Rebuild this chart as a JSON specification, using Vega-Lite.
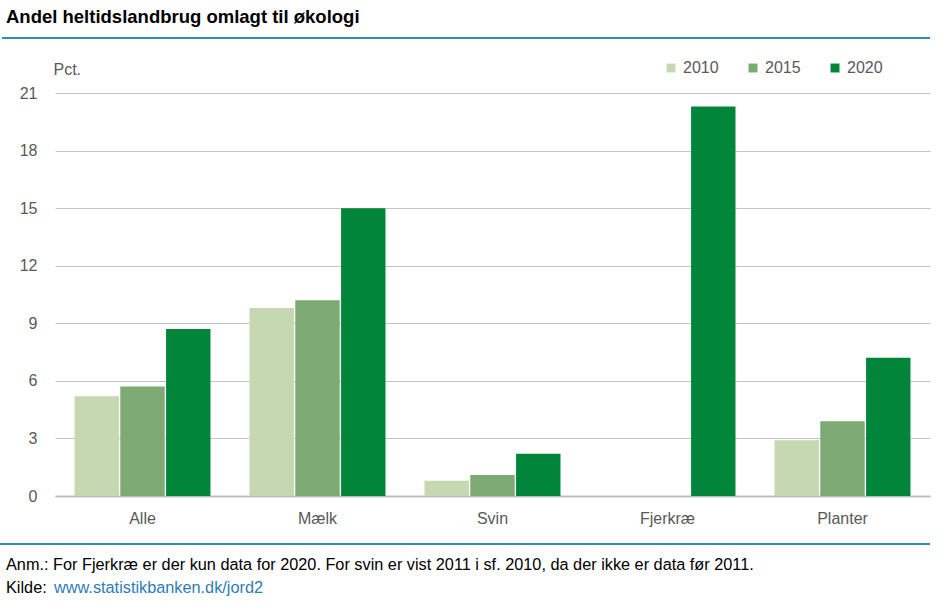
{
  "$schema": "https://vega.github.io/schema/vega-lite/v6.json",
  "autosize": {"type": "none"},
  "width": 875,
  "height": 403,
  "padding": {"left": 55, "top": 93, "right": 21, "bottom": 107},
  "background": "white",
  "title": {
    "text": "Andel heltidslandbrug omlagt til økologi",
    "anchor": "start",
    "frame": "group",
    "font": "Liberation Sans",
    "fontSize": 18.5,
    "fontWeight": "bold",
    "color": "#000000",
    "dx": -49,
    "offset": 10
  },
  "config": {
    "view": {"stroke": null},
    "font": "Liberation Sans"
  },
  "data": {
    "values": [
      {"kategori": "Alle", "aar": "2010", "pct": 5.2},
      {"kategori": "Alle", "aar": "2015", "pct": 5.7},
      {"kategori": "Alle", "aar": "2020", "pct": 8.7},
      {"kategori": "Mælk", "aar": "2010", "pct": 9.8},
      {"kategori": "Mælk", "aar": "2015", "pct": 10.2},
      {"kategori": "Mælk", "aar": "2020", "pct": 15.0},
      {"kategori": "Svin", "aar": "2010", "pct": 0.8},
      {"kategori": "Svin", "aar": "2015", "pct": 1.1},
      {"kategori": "Svin", "aar": "2020", "pct": 2.2},
      {"kategori": "Fjerkræ", "aar": "2020", "pct": 20.3},
      {"kategori": "Planter", "aar": "2010", "pct": 2.9},
      {"kategori": "Planter", "aar": "2015", "pct": 3.9},
      {"kategori": "Planter", "aar": "2020", "pct": 7.2}
    ]
  },
  "resolve": {"scale": {"x": "independent"}},
  "layer": [
    {
      "mark": {"type": "bar"},
      "encoding": {
        "x": {
          "field": "kategori",
          "type": "nominal",
          "sort": ["Alle", "Mælk", "Svin", "Fjerkræ", "Planter"],
          "scale": {"paddingInner": 0.223, "paddingOuter": 0.1115},
          "axis": {
            "title": null,
            "labelAngle": 0,
            "labelFont": "Liberation Sans",
            "labelFontSize": 16,
            "labelColor": "#595959",
            "labelPadding": 14,
            "ticks": false,
            "domainColor": "#BFBFBF",
            "domainWidth": 2
          }
        },
        "xOffset": {
          "field": "aar",
          "type": "nominal",
          "scale": {"domain": ["2010", "2015", "2020"], "paddingInner": 0.03}
        },
        "y": {
          "field": "pct",
          "type": "quantitative",
          "scale": {"domain": [0, 21], "nice": false},
          "axis": {
            "title": "Pct.",
            "titleAngle": 0,
            "titleAlign": "left",
            "titleBaseline": "middle",
            "titleX": -2,
            "titleY": -24,
            "titleFont": "Liberation Sans",
            "titleFontSize": 16,
            "titleFontWeight": "normal",
            "titleColor": "#595959",
            "values": [0, 3, 6, 9, 12, 15, 18, 21],
            "labelFont": "Liberation Sans",
            "labelFontSize": 16,
            "labelColor": "#595959",
            "labelPadding": 18,
            "ticks": false,
            "domain": false,
            "grid": true,
            "gridColor": "#C4C4C4",
            "gridWidth": 1
          }
        },
        "color": {
          "field": "aar",
          "type": "nominal",
          "scale": {"domain": ["2010", "2015", "2020"], "range": ["#C5D8B1", "#7CAA72", "#00853B"]},
          "legend": {
            "title": null,
            "orient": "none",
            "direction": "horizontal",
            "legendX": 608,
            "legendY": -33,
            "symbolType": "square",
            "symbolSize": 80,
            "symbolStrokeWidth": 0,
            "labelFont": "Liberation Sans",
            "labelFontSize": 16,
            "labelColor": "#595959",
            "labelOffset": 4,
            "columnPadding": 26
          }
        }
      }
    },
    {
      "mark": {"type": "rule", "color": "#2F8FA8", "strokeWidth": 2},
      "encoding": {
        "y": {"datum": 23.87},
        "x": {"datum": -53, "type": "quantitative", "scale": {"domain": [0, 875], "nice": false, "zero": false}, "axis": null},
        "x2": {"datum": 875}
      }
    },
    {
      "mark": {"type": "rule", "color": "#2F8FA8", "strokeWidth": 2},
      "encoding": {
        "y": {"datum": -2.5},
        "x": {"datum": -55, "type": "quantitative", "scale": {"domain": [0, 875], "nice": false, "zero": false}, "axis": null},
        "x2": {"datum": 875}
      }
    },
    {
      "data": {"values": [{"note": "Anm.: For Fjerkræ er der kun data for 2020. For svin er vist 2011 i sf. 2010, da der ikke er data før 2011."}]},
      "mark": {"type": "text", "align": "left", "baseline": "middle", "font": "Liberation Sans", "fontSize": 16.3, "color": "#000000"},
      "encoding": {
        "text": {"field": "note"},
        "y": {"datum": -3.6},
        "x": {"datum": -49, "type": "quantitative", "scale": {"domain": [0, 875], "nice": false, "zero": false}, "axis": null}
      }
    },
    {
      "data": {"values": [{"note": "Kilde:"}]},
      "mark": {"type": "text", "align": "left", "baseline": "middle", "font": "Liberation Sans", "fontSize": 16.3, "color": "#000000"},
      "encoding": {
        "text": {"field": "note"},
        "y": {"datum": -4.8},
        "x": {"datum": -49, "type": "quantitative", "scale": {"domain": [0, 875], "nice": false, "zero": false}, "axis": null}
      }
    },
    {
      "data": {"values": [{"note": "www.statistikbanken.dk/jord2"}]},
      "mark": {"type": "text", "align": "left", "baseline": "middle", "font": "Liberation Sans", "fontSize": 16.3, "color": "#2E7CB8"},
      "encoding": {
        "text": {"field": "note"},
        "y": {"datum": -4.8},
        "x": {"datum": -1, "type": "quantitative", "scale": {"domain": [0, 875], "nice": false, "zero": false}, "axis": null}
      }
    }
  ]
}
